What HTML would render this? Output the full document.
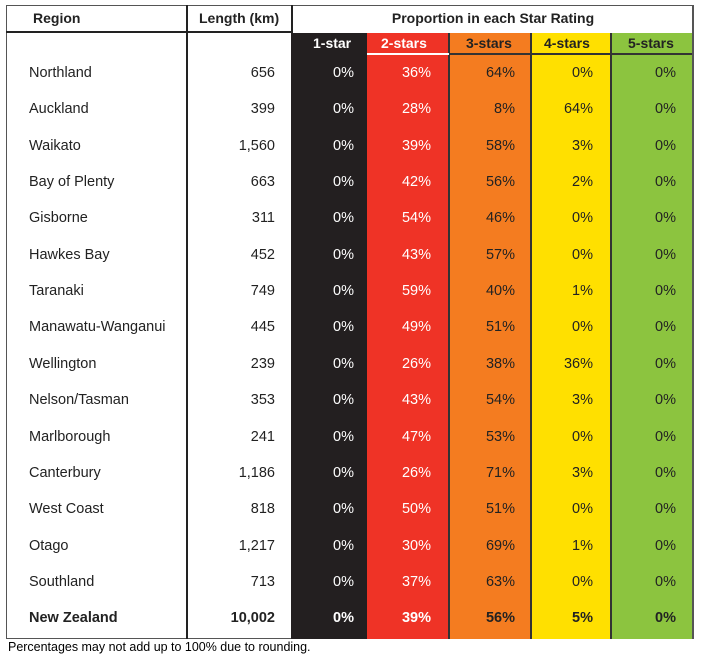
<!DOCTYPE html><html><head><style>
body{margin:0;width:703px;height:660px;background:#fff;position:relative;font-family:"Liberation Sans",sans-serif;overflow:hidden}
div{position:absolute;box-sizing:border-box}
.t{font-size:14.5px;color:#222;white-space:nowrap}
.h{font-weight:bold;font-size:14px;color:#222}
.r{text-align:right}
.w{color:#fff}
</style></head><body>
<div style="left:6px;top:5px;width:688px;height:634px;border:1.5px solid #555"></div>
<div style="left:6px;top:31px;width:286px;height:2px;background:#222"></div>
<div style="left:186px;top:5px;width:2px;height:634px;background:#222"></div>
<div style="left:291px;top:5px;width:2px;height:28px;background:#222"></div>
<div style="left:291px;top:33px;width:77px;height:606px;background:#231f20"></div>
<div style="left:367px;top:33px;width:82px;height:606px;background:#ef3326"></div>
<div style="left:449px;top:33px;width:82px;height:606px;background:#f47c20"></div>
<div style="left:531px;top:33px;width:80px;height:606px;background:#ffe000"></div>
<div style="left:611px;top:33px;width:83px;height:606px;background:#8cc43f"></div>
<div style="left:448px;top:33px;width:2px;height:606px;background:#333"></div>
<div style="left:530px;top:33px;width:2px;height:606px;background:#333"></div>
<div style="left:610px;top:33px;width:2px;height:606px;background:#333"></div>
<div style="left:449px;top:53px;width:245px;height:2px;background:#333"></div>
<div style="left:367px;top:53px;width:82px;height:2px;background:#fff"></div>
<div style="left:692px;top:5px;width:2px;height:634px;background:#555"></div>
<div class="h" style="left:33px;top:10px">Region</div>
<div class="h" style="left:199px;top:10px">Length (km)</div>
<div class="h" style="left:292px;top:10px;width:402px;text-align:center">Proportion in each Star Rating</div>
<div class="h w" style="left:313px;top:35px">1-star</div>
<div class="h w" style="left:381px;top:35px">2-stars</div>
<div class="h" style="left:466px;top:35px">3-stars</div>
<div class="h" style="left:544px;top:35px">4-stars</div>
<div class="h" style="left:628px;top:35px">5-stars</div>
<div id="rows"></div>
<div style="left:8px;top:639px;font-size:13px;color:#000;transform:scaleX(0.96);transform-origin:left;white-space:nowrap">Percentages may not add up to 100% due to rounding.</div>
<script>
var d=[["Northland","656",0,36,64,0,0],["Auckland","399",0,28,8,64,0],["Waikato","1,560",0,39,58,3,0],["Bay of Plenty","663",0,42,56,2,0],["Gisborne","311",0,54,46,0,0],["Hawkes Bay","452",0,43,57,0,0],["Taranaki","749",0,59,40,1,0],["Manawatu-Wanganui","445",0,49,51,0,0],["Wellington","239",0,26,38,36,0],["Nelson/Tasman","353",0,43,54,3,0],["Marlborough","241",0,47,53,0,0],["Canterbury","1,186",0,26,71,3,0],["West Coast","818",0,50,51,0,0],["Otago","1,217",0,30,69,1,0],["Southland","713",0,37,63,0,0],["New Zealand","10,002",0,39,56,5,0]];
var rx=[354,431,515,593,676],h="";
d.forEach(function(r,i){var y=65+i*36.35,b=i==15?"font-weight:bold;":"";
h+='<div class="t" style="'+b+'left:29px;top:'+y+'px">'+r[0]+'</div>';
h+='<div class="t r" style="'+b+'left:175px;width:100px;top:'+y+'px">'+r[1]+'</div>';
for(var k=0;k<5;k++)h+='<div class="t r'+(k<2?' w':'')+'" style="'+b+'left:'+(rx[k]-60)+'px;width:60px;top:'+y+'px">'+r[k+2]+'%</div>';});
document.getElementById("rows").outerHTML=h;
</script>
</body></html>
